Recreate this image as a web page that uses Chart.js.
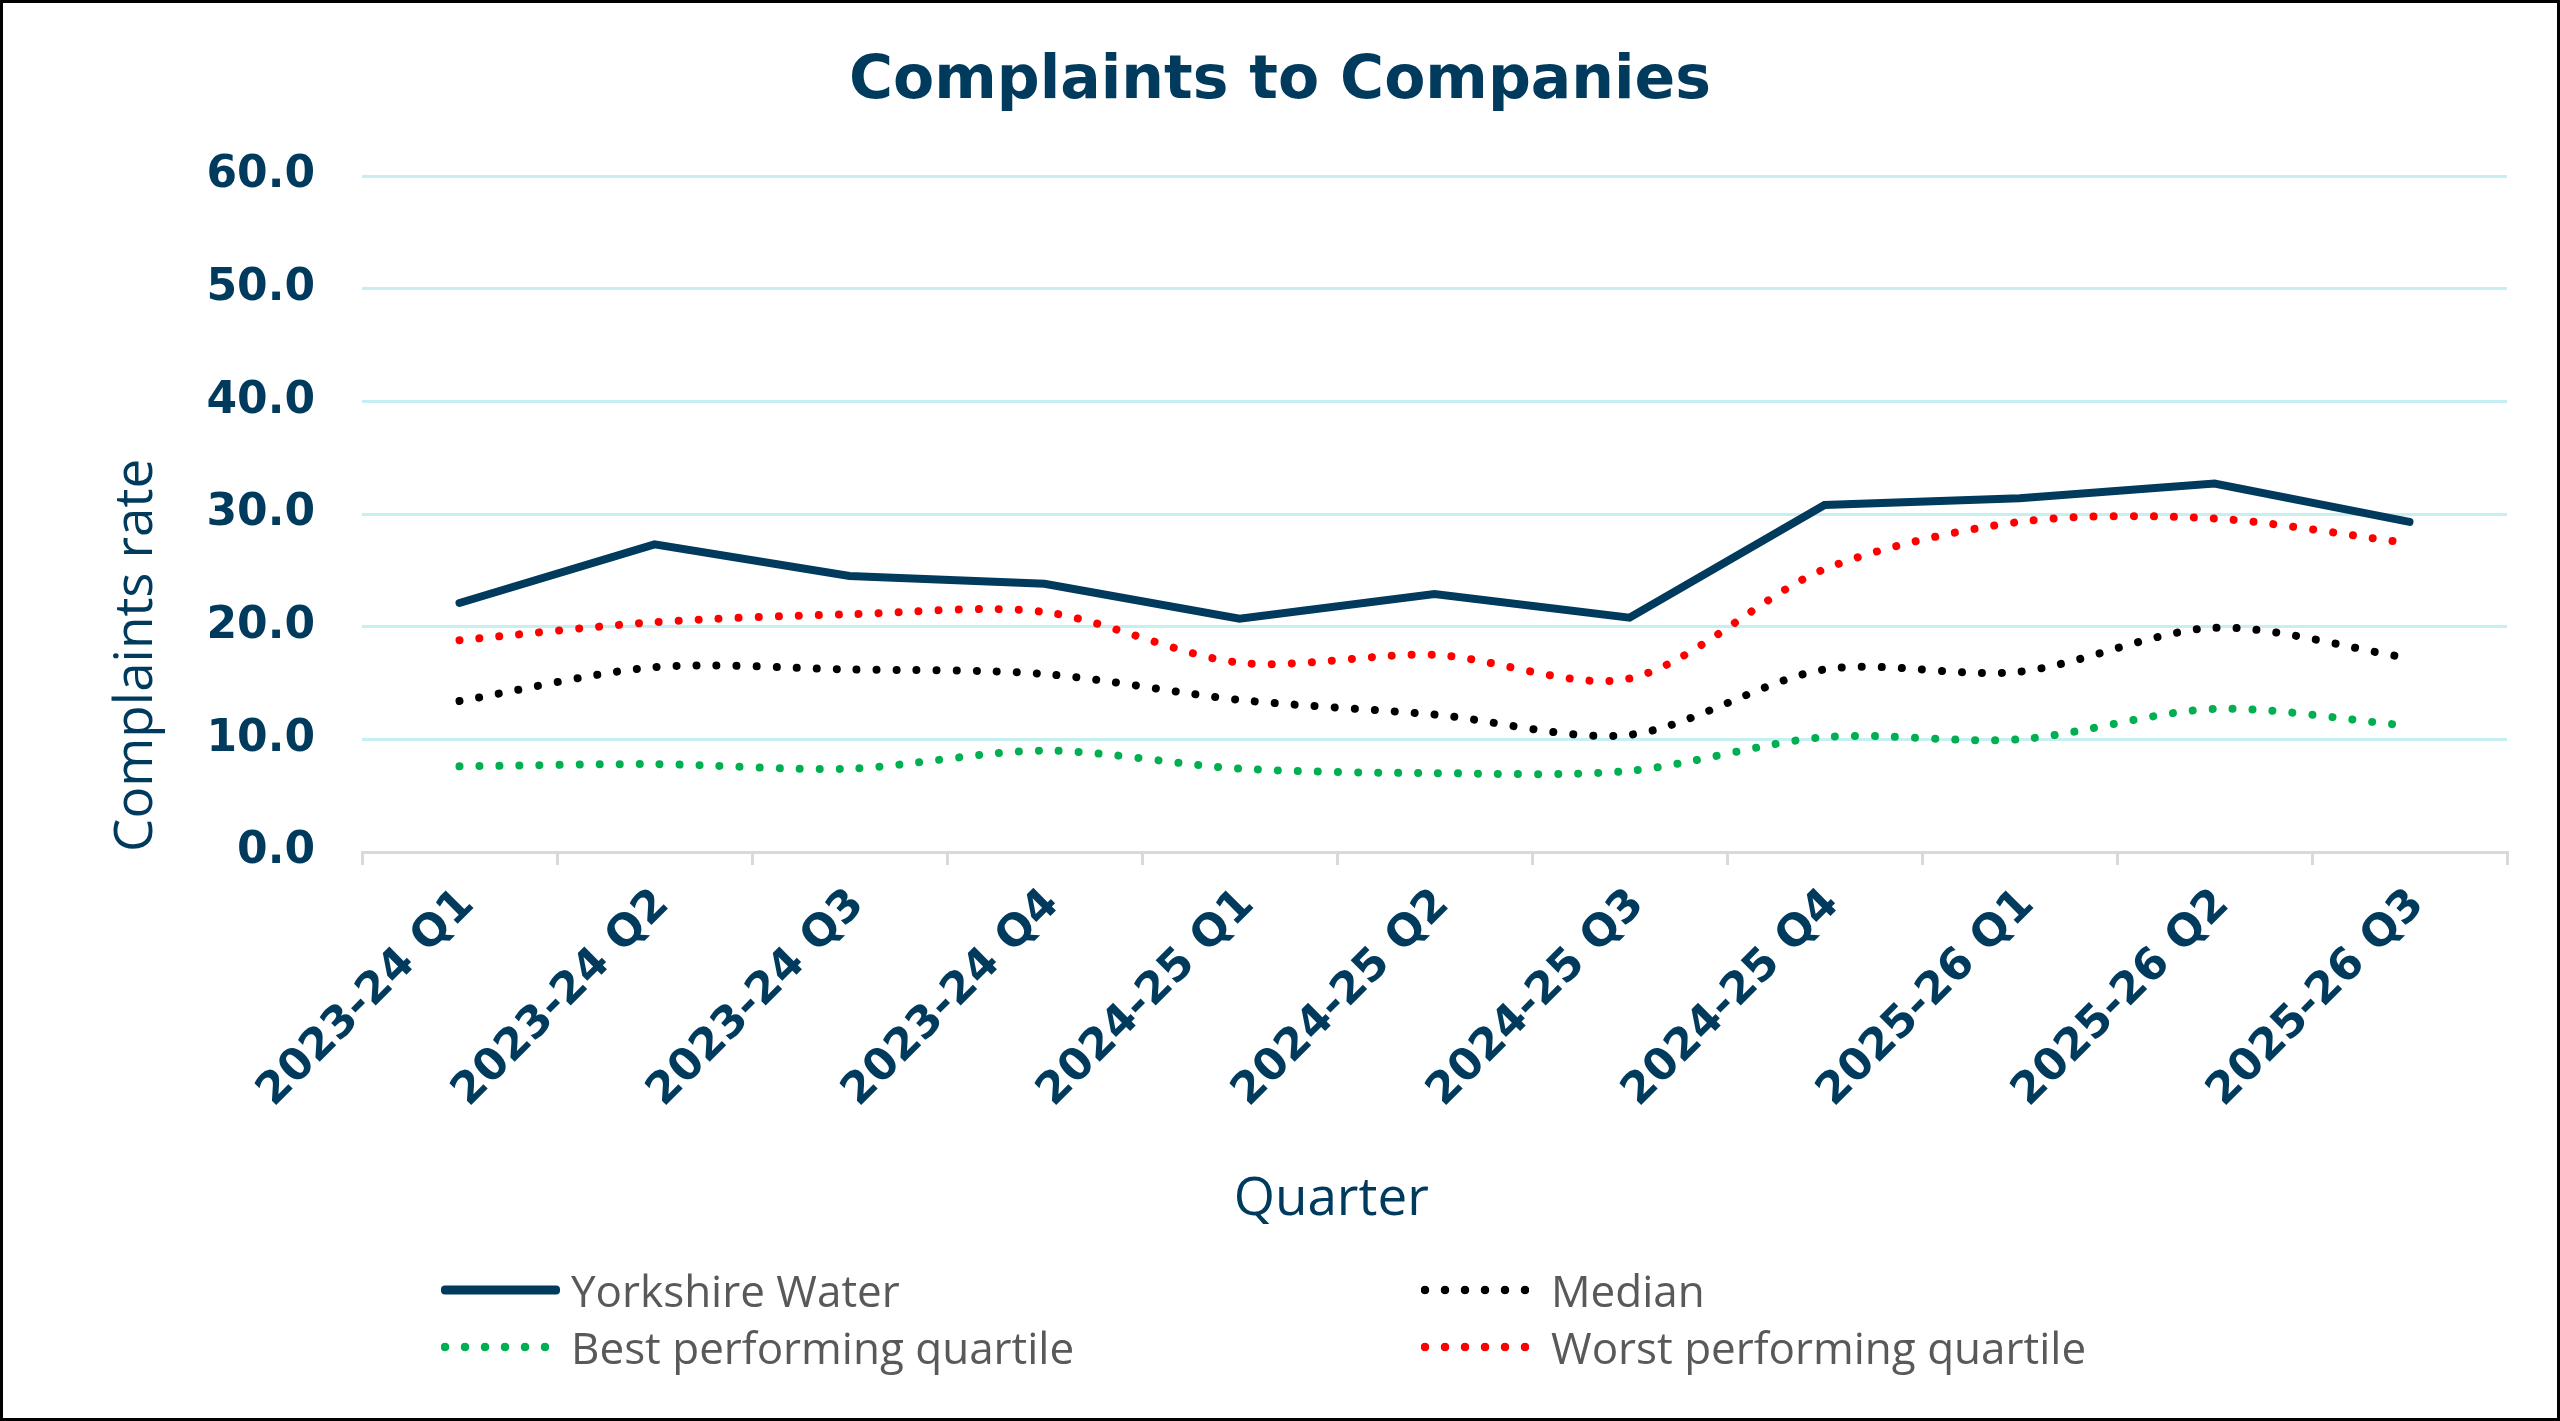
<!DOCTYPE html>
<html>
<head>
<meta charset="utf-8">
<title>Complaints to Companies</title>
<script src="https://cdn.jsdelivr.net/npm/chart.js@4.4.1/dist/chart.umd.min.js"></script>
<style>
    html, body { margin: 0; padding: 0; background: #fff; }
    #wrap { position: relative; width: 2560px; height: 1421px; overflow: hidden; }
    #chart { position: absolute; left: 0; top: 0; }
    #frame {
        position: absolute; left: 0; top: 0; width: 2560px; height: 1421px;
        box-sizing: border-box; border: 3px solid #000; pointer-events: none;
    }
    .legend-item {
        position: absolute; display: flex; align-items: center; height: 50px;
        font-family: 'Open Sans'; font-size: 44px; color: #595959; white-space: nowrap;
    }
    .legend-item .swatch-box { width: 130px; height: 50px; position: relative; }
    .legend-item .swatch { position: absolute; left: 0; top: 50%; transform: translateY(-50%); }
</style>
</head>
<body>
<div id="wrap">
    <canvas id="chart" width="2560" height="1421"></canvas>
    <div id="legend"></div>
    <div id="frame"></div>
</div>
<script>
// Date
const quarters = [
    '2023-24 Q1', '2023-24 Q2', '2023-24 Q3', '2023-24 Q4',
    '2024-25 Q1', '2024-25 Q2', '2024-25 Q3', '2024-25 Q4',
    '2025-26 Q1', '2025-26 Q2', '2025-26 Q3'
];
const yorkshireWater = [22.1, 27.3, 24.5, 23.8, 20.7, 22.9, 20.8, 30.8, 31.4, 32.7, 29.3];
const medianRate     = [13.4, 16.4, 16.2, 15.8, 13.5, 12.2, 10.4, 16.2, 16.0, 19.9, 17.2];
const bestQuartile   = [7.6, 7.8, 7.4, 9.0, 7.4, 7.0, 7.2, 10.2, 10.0, 12.7, 11.2];
const worstQuartile  = [18.8, 20.4, 21.1, 21.3, 16.8, 17.5, 15.4, 25.1, 29.3, 29.6, 27.4];
const yMin = 0;
const yMax = 60;
const yStep = 10;

const navy = '#003A5D';
const tickFont = { family: 'DejaVu Sans', size: 44, weight: 'bold' };
const titleFont = { family: 'Open Sans', size: 53, weight: 'normal' };

Chart.defaults.font.family = 'Open Sans';

function dotted(label, data, color) {
    return {
        label: label,
        data: data,
        borderColor: color,
        backgroundColor: color,
        borderWidth: 8,
        borderDash: [0.01, 20],
        borderCapStyle: 'round',
        tension: 0.3,
        pointRadius: 0,
        fill: false,
        legendStyle: 'dotted'
    };
}

const datasets = [
    {
        label: 'Yorkshire Water',
        data: yorkshireWater,
        borderColor: navy,
        backgroundColor: navy,
        borderWidth: 8,
        borderCapStyle: 'round',
        borderJoinStyle: 'miter',
        tension: 0,
        pointRadius: 0,
        fill: false,
        legendStyle: 'solid'
    },
    dotted('Median', medianRate, '#000000'),
    dotted('Best performing quartile', bestQuartile, '#00B050'),
    dotted('Worst performing quartile', worstQuartile, '#FF0000')
];

const ctx = document.getElementById('chart');
const chart = new Chart(ctx, {
    type: 'line',
    data: { labels: quarters, datasets: datasets },
    options: {
        responsive: false,
        animation: false,
        layout: { padding: { left: 53, right: 53, top: 0, bottom: 171 } },
        plugins: {
            legend: { display: false },
            tooltip: { enabled: false },
            title: {
                display: true,
                text: 'Complaints to Companies',
                color: navy,
                font: { family: 'DejaVu Sans', size: 60, weight: 'bold' },
                padding: { top: 46, bottom: 58 }
            }
        },
        scales: {
            x: {
                offset: true,
                grid: {
                    offset: true,
                    drawOnChartArea: false,
                    drawTicks: true,
                    tickLength: 13,
                    color: '#D9D9D9',
                    lineWidth: 3
                },
                border: { display: true, color: '#D9D9D9', width: 3 },
                ticks: {
                    color: navy,
                    font: tickFont,
                    autoSkip: false,
                    maxRotation: 45,
                    minRotation: 45,
                    padding: 14,
                    labelOffset: 8
                },
                title: {
                    display: true,
                    // spațiile mută centrul textului spre stânga, ca în original
                    text: 'Quarter' + ' '.repeat(15),
                    color: navy,
                    font: titleFont,
                    padding: { top: 0, bottom: 18 }
                },
                afterFit: scale => { scale.height = 398; }
            },
            y: {
                min: yMin,
                max: yMax,
                grid: {
                    drawTicks: false,
                    lineWidth: 3,
                    color: c => (c.tick && c.tick.value === 0) ? 'rgba(0,0,0,0)' : '#C5EFF2'
                },
                border: { display: false },
                ticks: {
                    stepSize: yStep,
                    color: navy,
                    font: tickFont,
                    padding: 47,
                    callback: v => Number(v).toFixed(1)
                },
                title: {
                    display: true,
                    text: 'Complaints rate',
                    align: 'start',
                    color: navy,
                    font: titleFont,
                    padding: { top: 52, bottom: 0 }
                },
                afterFit: scale => { scale.width = 309; }
            }
        }
    }
});

// Legendă HTML pe două coloane
const legendSlots = [
    { left: 441, top: 1265 },
    { left: 1421, top: 1265 },
    { left: 441, top: 1322 },
    { left: 1421, top: 1322 }
];
const legendOrder = [0, 1, 2, 3];
const legendEl = document.getElementById('legend');
legendOrder.forEach((idx, i) => {
    const ds = chart.data.datasets[idx];
    const item = document.createElement('div');
    item.className = 'legend-item';
    item.style.left = legendSlots[i].left + 'px';
    item.style.top = legendSlots[i].top + 'px';

    const box = document.createElement('div');
    box.className = 'swatch-box';
    const sw = document.createElement('div');
    sw.className = 'swatch';
    if (ds.legendStyle === 'solid') {
        sw.style.width = '119px';
        sw.style.height = '9px';
        sw.style.borderRadius = '4px';
        sw.style.background = ds.borderColor;
    } else {
        sw.style.width = '108px';
        sw.style.height = '10px';
        sw.style.backgroundImage = `radial-gradient(circle, ${ds.borderColor} 0 4px, rgba(0,0,0,0) 4.6px)`;
        sw.style.backgroundSize = '20px 10px';
        sw.style.backgroundRepeat = 'repeat-x';
        sw.style.backgroundPosition = '-6px 0';
    }
    box.appendChild(sw);

    const txt = document.createElement('span');
    txt.textContent = ds.label;
    item.appendChild(box);
    item.appendChild(txt);
    legendEl.appendChild(item);
});
</script>
</body>
</html>
